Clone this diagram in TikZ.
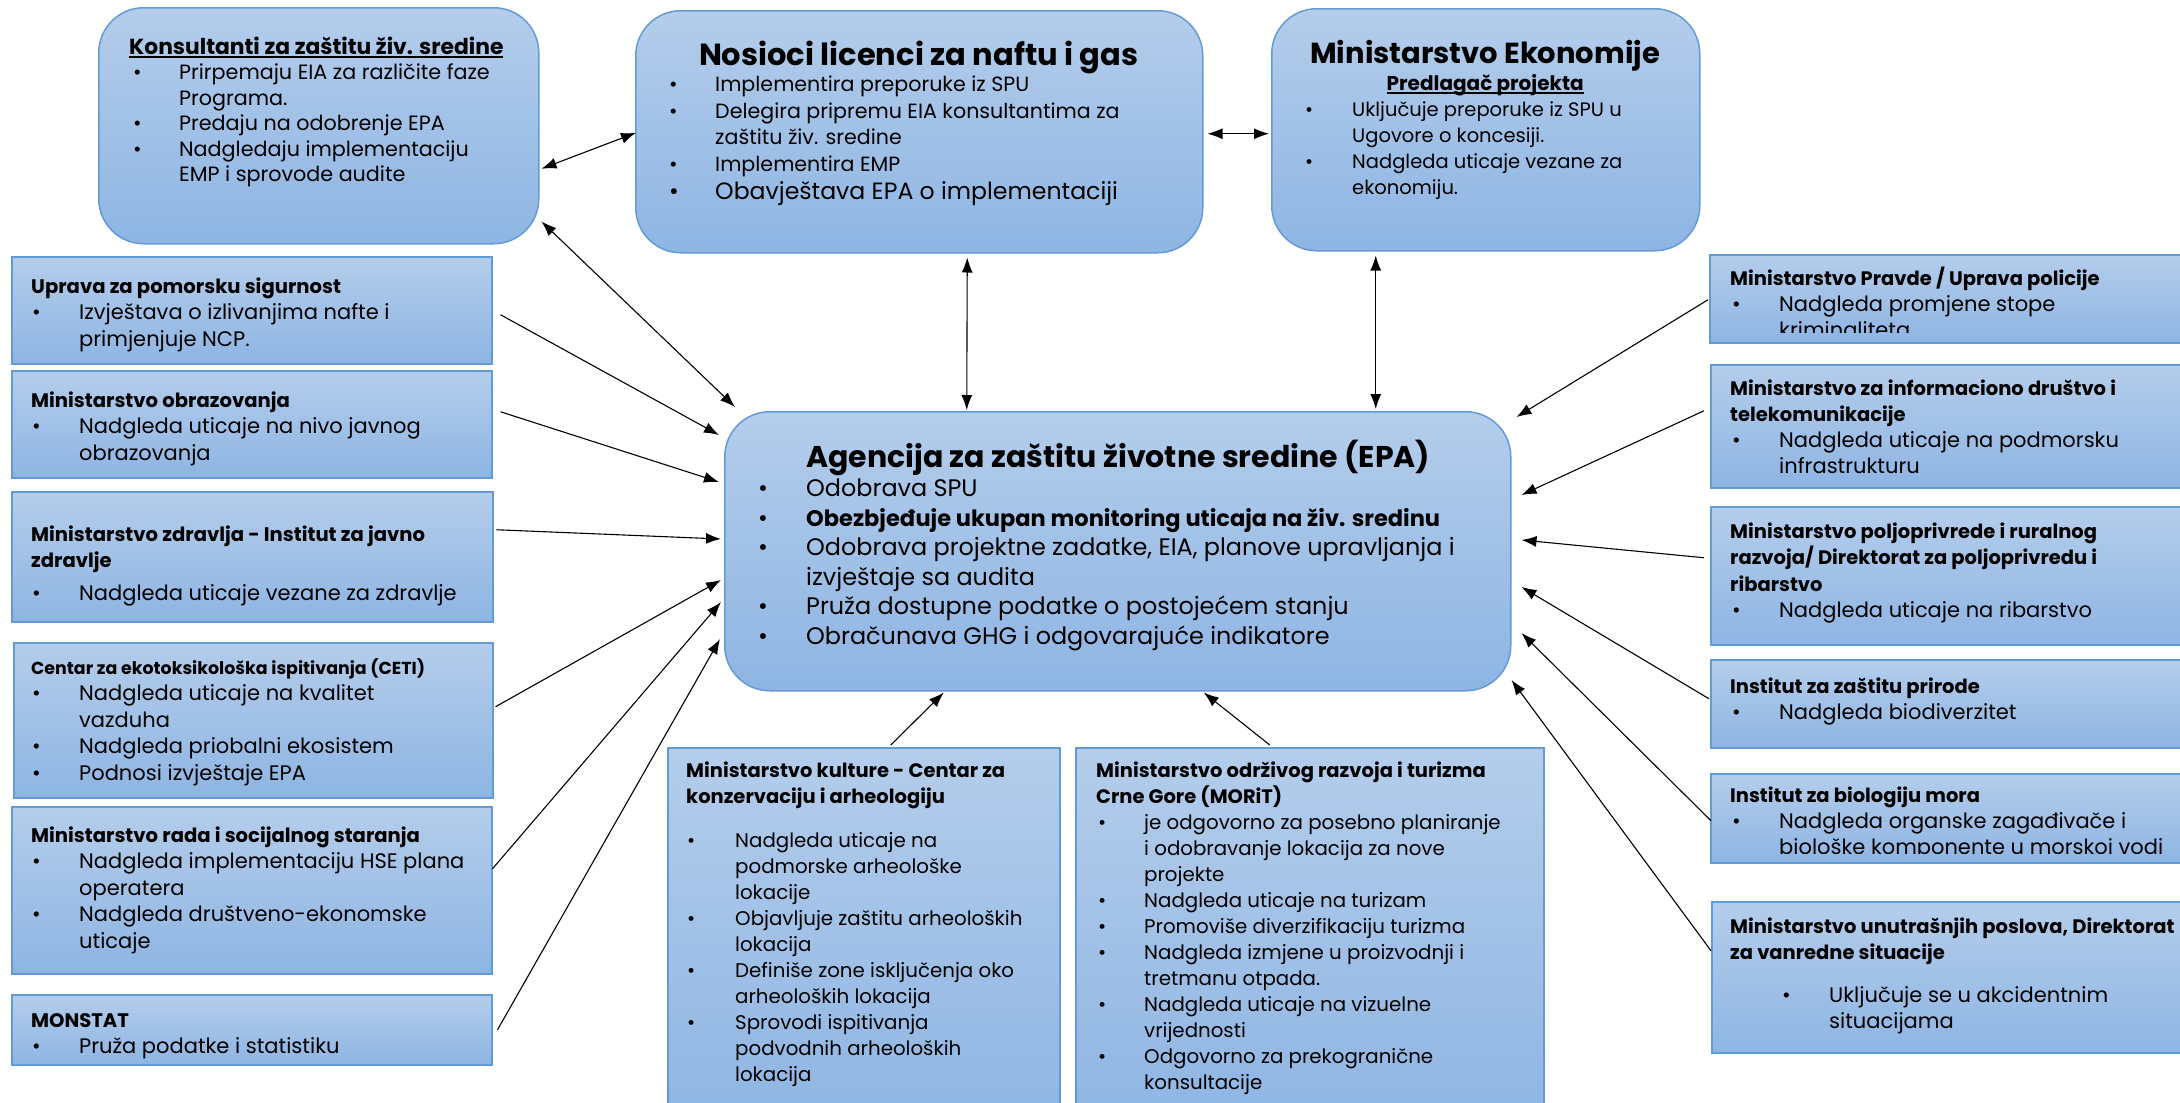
\documentclass[tikz,border=0pt]{standalone}
\usepackage{fontspec}
\setmainfont{Poppins}
\usetikzlibrary{arrows.meta,calc}
\definecolor{boxtop}{RGB}{180,205,235}
\definecolor{boxbot}{RGB}{142,181,227}
\definecolor{bordc}{RGB}{98,155,214}
\newdimen\bulw \newdimen\bulo
\newcommand\txtb[1]{\vtop{\hsize=760pt\parindent=0pt\parskip=0pt #1}}
\newcommand\thd[2]{{#1\noindent #2\par}}
\newcommand\bitm[1]{{\noindent\hangindent=\bulw\hangafter=1\makebox[\bulw][l]{\hspace*{\bulo}\textbullet}#1\par}}
\newcommand\undl[1]{\setbox0\hbox{#1}\rlap{\rule[-3.5pt]{\wd0}{1.5pt}}\box0}
% font sizes
\newcommand\fsKT{\fontsize{21.8}{26}\selectfont\bfseries}
\newcommand\fsKB{\fontsize{20.7}{25.5}\selectfont}
\newcommand\fsNT{\fontsize{30.5}{34}\selectfont\bfseries}
\newcommand\fsNB{\fontsize{20.6}{26.5}\selectfont}
\newcommand\fsNL{\fontsize{23.6}{28}\selectfont}
\newcommand\fsEkT{\fontsize{29}{34}\selectfont\bfseries}
\newcommand\fsEkS{\fontsize{20}{27}\selectfont\bfseries}
\newcommand\fsEkB{\fontsize{19.5}{26}\selectfont}
\newcommand\fsET{\fontsize{30}{36}\selectfont\bfseries}
\newcommand\fsEB{\fontsize{23.9}{29.5}\selectfont}
\newcommand\fsEBb{\fontsize{22.5}{29.5}\selectfont\bfseries}
\newcommand\fsLT{\fontsize{19.6}{26.5}\selectfont\bfseries}
\newcommand\fsLB{\fontsize{21}{26.5}\selectfont}
\newcommand\fsCT{\fontsize{17.4}{25}\selectfont\bfseries}
\newcommand\fsRT{\fontsize{19.5}{26.5}\selectfont\bfseries}
\newcommand\fsRB{\fontsize{21}{26}\selectfont}
\newcommand\fsBT{\fontsize{19.5}{26}\selectfont\bfseries}
\newcommand\fsBB{\fontsize{19.8}{26}\selectfont}
\tikzset{
  boxbase/.style={anchor=north west, inner sep=0pt, line width=1.5pt, draw=bordc,
    top color=boxtop, bottom color=boxbot},
  rbox/.style={boxbase, rounded corners=45pt},
  sbox/.style={boxbase},
  txt/.style={anchor=base west, inner sep=0pt},
  arr/.style={-{Latex[length=15pt,width=11pt]}, line width=1.1pt},
  dbl/.style={{Latex[length=15pt,width=11pt]}-{Latex[length=15pt,width=11pt]}, line width=1.1pt}
}
\begin{document}
\begin{tikzpicture}[x=1pt,y=-1pt]
\useasboundingbox (0,0) rectangle (2180,1103);
\fill[white] (0,0) rectangle (2180,1103);
\clip (0,0) rectangle (2180,1103);
% ---------- top row ----------
\node[rbox, minimum width=440pt, minimum height=236pt] (kons) at (98,7) {};
\node[rbox, minimum width=567pt, minimum height=242pt] (nos) at (635,10) {};
\node[rbox, minimum width=428pt, minimum height=242pt] (eko) at (1271,8) {};
\node[rbox, minimum width=786pt, minimum height=279pt] (epa) at (724,411) {};
% ---------- left column ----------
\node[sbox, minimum width=480pt, minimum height=107pt] (upr) at (11,256) {};
\node[sbox, minimum width=480pt, minimum height=107pt] (obr) at (11,370) {};
\node[sbox, minimum width=481pt, minimum height=130pt] (zdr) at (11,491) {};
\node[sbox, minimum width=479pt, minimum height=155pt] (ceti) at (13,642) {};
\node[sbox, minimum width=480pt, minimum height=167pt] (rada) at (11,806) {};
\node[sbox, minimum width=480pt, minimum height=70pt] (mon) at (11,994) {};
% ---------- right column ----------
\node[sbox, minimum width=500pt, minimum height=88pt] (prav) at (1709,254) {};
\node[sbox, minimum width=500pt, minimum height=123pt] (inf) at (1710,364) {};
\node[sbox, minimum width=500pt, minimum height=138pt] (pol) at (1710,506) {};
\node[sbox, minimum width=500pt, minimum height=88pt] (pri) at (1710,659) {};
\node[sbox, minimum width=500pt, minimum height=89pt] (bio) at (1710,773) {};
\node[sbox, minimum width=500pt, minimum height=151pt] (unu) at (1711,901) {};
% ---------- bottom ----------
\node[sbox, minimum width=392pt, minimum height=380pt] (kul) at (667,747) {};
\node[sbox, minimum width=468pt, minimum height=380pt] (mor) at (1075,747) {};

% ---------- texts ----------
\node[txt] (kons-t) at (129,54) {\txtb{\bulw=50pt\bulo=4pt
 \thd{\fsKT}{\undl{Konsultanti za zaštitu živ. sredine}}
 \fsKB
 \bitm{Prirpemaju EIA za različite faze\newline Programa.}
 \bitm{Predaju na odobrenje EPA}
 \bitm{Nadgledaju implementaciju\newline EMP i sprovode audite}}};

\node[txt] (nos-t) at (635,65) {\txtb{\bulw=80pt\bulo=34pt
 \thd{\fsNT}{\makebox[567pt][c]{Nosioci licenci za naftu i gas}}
 \fsNB
 \bitm{Implementira preporuke iz SPU}
 \bitm{Delegira pripremu EIA konsultantima za\newline zaštitu živ. sredine}
 \bitm{Implementira EMP}
 {\fsNL\bitm{Obavještava EPA o implementaciji}}}};

\node[txt] (eko-t) at (1271,63) {\txtb{\bulw=81pt\bulo=34pt
 \thd{\fsEkT}{\makebox[428pt][c]{Ministarstvo Ekonomije}}
 \thd{\fsEkS}{\makebox[428pt][c]{\undl{Predlagač projekta}}}
 \fsEkB
 \bitm{Uključuje preporuke iz SPU u\newline Ugovore o koncesiji.}
 \bitm{Nadgleda uticaje vezane za\newline ekonomiju.}}};

\node[txt] (epa-t) at (758,467) {\txtb{\bulw=48pt\bulo=0pt
 \thd{\fsET}{\hspace*{48pt}Agencija za zaštitu životne sredine (EPA)}
 \fsEB
 \bitm{Odobrava SPU}
 \bitm{\fsEBb Obezbjeđuje ukupan monitoring uticaja na živ. sredinu}
 \bitm{Odobrava projektne zadatke, EIA, planove upravljanja i\newline izvještaje sa audita}
 \bitm{Pruža dostupne podatke o postojećem stanju}
 \bitm{Obračunava GHG i odgovarajuće indikatore}}};

% left
\node[txt] (upr-t) at (31,293) {\txtb{\bulw=48pt\bulo=1pt
 \thd{\fsLT}{Uprava za pomorsku sigurnost}
 \fsLB
 \bitm{Izvještava o izlivanjima nafte i\newline primjenjuje NCP.}}};
\node[txt] (obr-t) at (31,407) {\txtb{\bulw=48pt\bulo=1pt
 \thd{\fsLT}{Ministarstvo obrazovanja}
 \fsLB
 \bitm{Nadgleda uticaje na nivo javnog\newline obrazovanja}}};
\node[txt] (zdr-t) at (31,541) {\txtb{\bulw=48pt\bulo=1pt
 \thd{\fsLT}{Ministarstvo zdravlja - Institut za javno\newline zdravlje}
 \fsLB\vspace{6pt}
 \bitm{Nadgleda uticaje vezane za zdravlje}}};
\node[txt] (ceti-t) at (31,674) {\txtb{\bulw=48pt\bulo=1pt
 \thd{\fsCT}{Centar za ekotoksikološka ispitivanja (CETI)}
 \fsLB
 \bitm{Nadgleda uticaje na kvalitet\newline vazduha}
 \bitm{Nadgleda priobalni ekosistem}
 \bitm{Podnosi izvještaje EPA}}};
\node[txt] (rada-t) at (31,842) {\txtb{\bulw=48pt\bulo=1pt
 \thd{\fsLT}{Ministarstvo rada i socijalnog staranja}
 \fsLB
 \bitm{Nadgleda implementaciju HSE plana\newline operatera}
 \bitm{Nadgleda društveno-ekonomske\newline uticaje}}};
\node[txt] (mon-t) at (31,1027) {\txtb{\bulw=48pt\bulo=1pt
 \thd{\fsLT}{MONSTAT}
 \fsLB
 \bitm{Pruža podatke i statistiku}}};

% right
\begin{scope}
\clip (1700,250) rectangle (2180,332);
\node[txt] (prav-t) at (1730,285) {\txtb{\bulw=49pt\bulo=2pt
 \thd{\fsRT}{Ministarstvo Pravde / Uprava policije}
 \fsRB
 \bitm{Nadgleda promjene stope\newline kriminaliteta}}};
\end{scope}
\node[txt] (inf-t) at (1730,395) {\txtb{\bulw=49pt\bulo=2pt
 \thd{\fsRT}{Ministarstvo za informaciono društvo i\newline telekomunikacije}
 \fsRB
 \bitm{Nadgleda uticaje na podmorsku\newline infrastrukturu}}};
\node[txt] (pol-t) at (1730,538) {\txtb{\bulw=49pt\bulo=2pt
 \thd{\fsRT}{Ministarstvo poljoprivrede i ruralnog\newline razvoja/ Direktorat za poljoprivredu i\newline ribarstvo}
 \fsRB
 \bitm{Nadgleda uticaje na ribarstvo}}};
\node[txt] (pri-t) at (1730,693) {\txtb{\bulw=49pt\bulo=2pt
 \thd{\fsRT}{Institut za zaštitu prirode}
 \fsRB
 \bitm{Nadgleda biodiverzitet}}};
\begin{scope}
\clip (1700,770) rectangle (2180,853);
\node[txt] (bio-t) at (1730,802) {\txtb{\bulw=49pt\bulo=2pt
 \thd{\fsRT}{Institut za biologiju mora}
 \fsRB
 \bitm{Nadgleda organske zagađivače i\newline biološke komponente u morskoj vodi}}};
\end{scope}
\node[txt] (unu-t) at (1730,933) {\txtb{\bulw=99pt\bulo=52pt
 \thd{\fsRT}{Ministarstvo unutrašnjih poslova, Direktorat\newline za vanredne situacije}
 \fsRB\vspace{17pt}
 \bitm{Uključuje se u akcidentnim\newline situacijama}}};

% bottom
\node[txt] (kul-t) at (686,777) {\txtb{\bulw=49pt\bulo=1pt
 \thd{\fsBT}{Ministarstvo kulture - Centar za\newline konzervaciju i arheologiju}
 \fsBB\vspace{18pt}
 \bitm{Nadgleda uticaje na\newline podmorske arheološke\newline lokacije}
 \bitm{Objavljuje zaštitu arheoloških\newline lokacija}
 \bitm{Definiše zone isključenja oko\newline arheoloških lokacija}
 \bitm{Sprovodi ispitivanja\newline podvodnih arheoloških\newline lokacija}}};
\node[txt] (mor-t) at (1096,777) {\txtb{\bulw=48pt\bulo=2pt
 \thd{\fsBT}{Ministarstvo održivog razvoja i turizma\newline Crne Gore (MORiT)}
 \fsBB
 \bitm{je odgovorno za posebno planiranje\newline i odobravanje lokacija za nove\newline projekte}
 \bitm{Nadgleda uticaje na turizam}
 \bitm{Promoviše diverzifikaciju turizma}
 \bitm{Nadgleda izmjene u proizvodnji i\newline tretmanu otpada.}
 \bitm{Nadgleda uticaje na vizuelne\newline vrijednosti}
 \bitm{Odgovorno za prekogranične\newline konsultacije}}};

% ---------- connectors ----------
\draw[dbl] ($(kons.east)+(2,43)$) -- ($(nos.west)+(1,1)$);
\draw[dbl] ($(nos.east)+(4,2)$) -- ($(eko.west)+(-2,4)$);
\draw[dbl] ($(nos.south)+(48,4)$) -- ($(epa.north)+(-151,-1)$);
\draw[dbl] ($(eko.south)+(-110,4)$) -- ($(epa.north)+(258,-2)$);
\draw[dbl] ($(kons.south east)+(2,-23)$) -- ($(epa.north west)+(11,-4)$);
\draw[arr] ($(upr.east)+(8,4.5)$) -- ($(epa.north west)+(-5,24)$);
\draw[arr] ($(obr.east)+(8,-12.5)$) -- ($(epa.north west)+(-5,71)$);
\draw[arr] ($(zdr.east)+(3,-27)$) -- ($(epa.north west)+(-3,128)$);
\draw[arr] ($(ceti.east)+(2,-13.5)$) -- ($(epa.north west)+(-3,169)$);
\draw[arr] ($(rada.east)+(0,-21.5)$) -- ($(epa.north west)+(-3,191)$);
\draw[arr] ($(mon.east)+(5,0)$) -- ($(epa.north west)+(-4,228)$);
\draw[arr] ($(kul.north)+(27,-2)$) -- ($(epa.south)+(-174,1)$);
\draw[arr] ($(mor.north)+(-40,-2)$) -- ($(epa.south)+(86,1)$);
\draw[arr] ($(prav.west)+(-1,1)$) -- ($(epa.north east)+(5,6)$);
\draw[arr] ($(inf.west)+(-6,-15.5)$) -- ($(epa.north east)+(10,84)$);
\draw[arr] ($(pol.west)+(-6,-18)$) -- ($(epa.north east)+(10,129)$);
\draw[arr] ($(pri.west)+(-1,-5)$) -- ($(epa.north east)+(10,176)$);
\draw[arr] ($(bio.west)+(1,2.5)$) -- ($(epa.north east)+(10,222)$);
\draw[arr] ($(unu.west)+(0,-26.5)$) -- ($(epa.north east)+(0,269)$);
\end{tikzpicture}
\end{document}
